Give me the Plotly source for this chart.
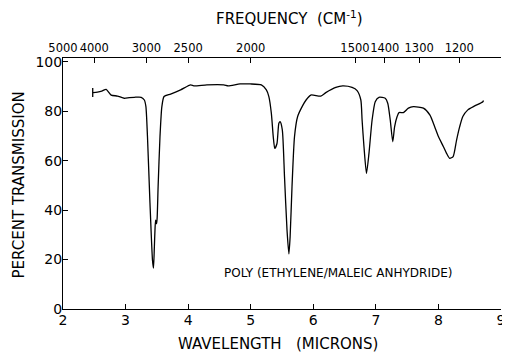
import plotly.graph_objects as go

# Spectrum trace (wavelength in microns, percent transmission)
wavelength = [2.48, 2.55, 2.62, 2.69, 2.77, 2.87, 2.98, 3.06, 3.14, 3.25, 3.30, 3.325,
              3.35, 3.39, 3.43, 3.446, 3.46, 3.47, 3.48, 3.495, 3.505, 3.52, 3.55, 3.58,
              3.615, 3.72, 3.88, 4.04, 4.09, 4.30, 4.57, 4.64, 4.83, 4.99, 5.17, 5.25,
              5.29, 5.33, 5.36, 5.385, 5.42, 5.45, 5.47, 5.505, 5.54, 5.58, 5.61, 5.63,
              5.66, 5.70, 5.75, 5.83, 5.885, 5.96, 6.12, 6.20, 6.36, 6.47, 6.62, 6.70,
              6.76, 6.78, 6.81, 6.85, 6.89, 6.94, 6.99, 7.05, 7.15, 7.19, 7.23, 7.27,
              7.30, 7.34, 7.37, 7.44, 7.52, 7.60, 7.76, 7.865, 7.94, 8.00, 8.08, 8.13,
              8.18, 8.235, 8.29, 8.34, 8.39, 8.47, 8.58, 8.71, 8.72]
transmission = [87.6, 87.8, 88.2, 88.9, 86.6, 86.2, 85.3, 85.6, 85.7, 85.7, 84.6, 81.9,
                69.8, 42.9, 19.8, 16.6, 25.0, 32.0, 36.0, 34.5, 37.0, 49.5, 69.8, 81.9,
                86.0, 87.0, 88.7, 90.7, 90.3, 90.7, 90.7, 90.3, 91.1, 91.1, 90.7, 88.7,
                86.0, 79.2, 69.8, 65.0, 67.0, 75.2, 75.8, 72.5, 53.6, 32.0, 22.3, 29.3,
                49.5, 69.8, 77.9, 82.3, 84.6, 86.6, 86.2, 87.6, 89.7, 90.3, 89.7, 88.4,
                84.6, 76.5, 65.7, 54.9, 63.0, 76.5, 83.9, 85.7, 85.3, 83.3, 76.5, 67.7,
                73.8, 77.9, 79.5, 79.5, 81.3, 81.9, 81.3, 78.5, 73.8, 69.8, 65.7, 63.0,
                61.0, 61.7, 68.4, 73.8, 77.9, 80.6, 82.2, 83.9, 84.4]

# Pen start mark
start_mark_x = [2.475, 2.475]
start_mark_y = [85.8, 89.5]

# Axis ticks
wavelength_ticks = [2, 3, 4, 5, 6, 7, 8, 9]
y_ticks = [0, 20, 40, 60, 80, 100]
frequency_ticks = [5000, 4000, 3000, 2500, 2000, 1500, 1400, 1300, 1200]
frequency_labels = [str(f) for f in frequency_ticks]

FONT = "DejaVu Sans"

fig = go.Figure()
fig.add_trace(go.Scatter(x=wavelength, y=transmission, mode="lines",
                         line=dict(color="black", width=1.3, shape="spline", smoothing=0.6),
                         showlegend=False, hoverinfo="skip"))
fig.add_trace(go.Scatter(x=start_mark_x, y=start_mark_y, mode="lines",
                         line=dict(color="black", width=1.3),
                         showlegend=False, hoverinfo="skip"))
# invisible trace on top axis so it renders
fig.add_trace(go.Scatter(x=[2, 9], y=[None, None], xaxis="x2", mode="lines",
                         showlegend=False, hoverinfo="skip"))

# page body has an 8px default margin, so the figure is sized to compensate
fig.update_layout(
    width=502, height=345,
    margin=dict(l=55, r=5, t=50, b=44),
    paper_bgcolor="white", plot_bgcolor="white",
    font=dict(family=FONT, color="black", size=14),
    xaxis=dict(range=[2, 9], tickvals=wavelength_ticks, ticktext=[str(t) for t in wavelength_ticks],
               ticks="inside", ticklen=5, tickcolor="black", showline=True, linecolor="black",
               linewidth=1, showgrid=False, zeroline=False, tickangle=0, ticklabelstandoff=-2,
               tickfont=dict(size=14, family=FONT)),
    xaxis2=dict(range=[2, 9], overlaying="x", side="top", anchor="y",
                tickvals=[10000 / f for f in frequency_ticks],
                ticktext=frequency_labels,
                ticks="inside", ticklen=5, tickcolor="black", showline=True, linecolor="black",
                linewidth=1, showgrid=False, zeroline=False, tickangle=0,
                tickfont=dict(size=11.5, family=FONT)),
    yaxis=dict(range=[0, 101.6], tickvals=y_ticks, ticktext=[str(t) for t in y_ticks],
               ticks="inside", ticklen=5, tickcolor="black", showline=True, linecolor="black",
               linewidth=1, showgrid=False, zeroline=False, ticklabelstandoff=-3,
               tickfont=dict(size=14, family=FONT)),
    annotations=[
        dict(text="FREQUENCY  (CM<sup>-1</sup>)", xref="paper", yref="paper", x=0.518, y=1.159,
             showarrow=False, xanchor="center", yanchor="middle", font=dict(size=15, family=FONT)),
        dict(text="WAVELENGTH   (MICRONS)", xref="paper", yref="paper", x=0.491, y=-0.139,
             showarrow=False, xanchor="center", yanchor="middle", font=dict(size=15, family=FONT)),
        dict(text="PERCENT TRANSMISSION", xref="paper", yref="paper", x=-0.0995, y=0.494,
             showarrow=False, xanchor="center", yanchor="middle", textangle=-90,
             font=dict(size=15, family=FONT)),
        dict(text="POLY (ETHYLENE/MALEIC ANHYDRIDE)", xref="x", yref="y", x=6.40, y=14.6,
             showarrow=False, xanchor="center", yanchor="middle", font=dict(size=12, family=FONT)),
    ],
)

fig.write_html("out.html")
